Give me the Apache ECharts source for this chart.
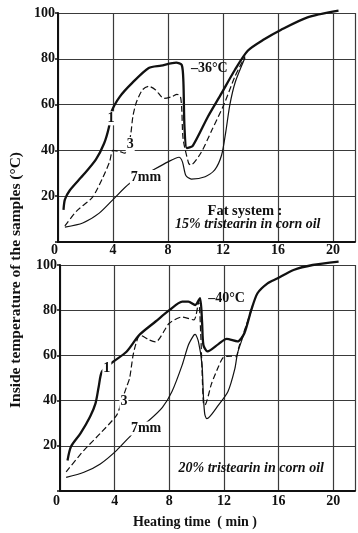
<!DOCTYPE html>
<html>
<head>
<meta charset="utf-8">
<script src="https://cdn.jsdelivr.net/npm/echarts@6/dist/echarts.min.js"></script>
<style>
  html, body { margin: 0; padding: 0; background: #fff; }
  #main { width: 358px; height: 533px; }
</style>
</head>
<body>
<div id="main"></div>
<script>
// tick labels
var xTicks = [0, 4, 8, 12, 16, 20];
var yTicks = [20, 40, 60, 80, 100];

// top panel: 15% tristearin, -36 C  ([min, C])
var top1 = [[0.4,14],[0.5,18.5],[0.85,22.5],[1.8,29],[2.75,36],[3.35,43],[3.7,50],[3.9,57],[4.5,63.5],[5.4,69.5],[6.6,76],[7.5,77],[8.6,78.3],[9.0,77.3],[9.12,70],[9.2,50],[9.37,41],[9.8,42],[10.9,54.7],[11.9,65],[12.85,75],[13.8,83.5],[15,88.5],[16.2,92.6],[18.1,98],[20.4,101]];
var top3 = [[0.5,7],[1.35,13.5],[2.5,19.5],[3.25,28],[3.75,35],[4.0,40],[4.5,39.5],[4.85,38.8],[5.05,40],[5.3,47.5],[5.45,55],[5.7,61],[6.15,66.5],[6.6,68],[7.1,66.4],[7.7,62.7],[8.3,63.5],[8.65,64.5],[8.9,63.5],[9.0,58],[9.1,45],[9.5,34.4],[9.65,33.6],[10.4,39],[11.2,49],[12.1,60.5],[12.85,72],[13.6,81]];
var top7 = [[0.5,6.5],[1.8,8.3],[3.0,12.6],[4.0,18.5],[5.2,25.5],[6.8,31],[8.0,35],[8.8,37],[9.05,35],[9.3,29],[9.7,27.5],[10.7,28.5],[11.4,31.5],[11.9,38],[12.2,48],[12.5,60],[12.9,70],[13.6,80.5]];

// bottom panel: 20% tristearin, -40 C
var bot1 = [[0.55,13.5],[0.8,19.6],[1.5,25.5],[2.2,32.9],[2.6,38.8],[2.83,46],[3.07,52.8],[3.9,57.2],[4.87,61.6],[5.8,69],[7.0,75],[8.0,80],[8.95,83.8],[9.4,83.8],[9.9,82.3],[10.25,85.3],[10.4,75],[10.5,64.6],[10.8,61.8],[11.6,65],[12.2,67.3],[13.0,66.2],[13.5,69.8],[14.0,80],[14.46,87.5],[15.2,91.9],[15.9,94],[17.1,97.8],[18.5,100],[20.4,101.5]];
var bot3 = [[0.45,8.5],[1.75,18],[2.95,25.5],[4.15,33.6],[4.5,39.5],[4.87,46],[5.1,50],[5.35,60],[5.6,66],[5.85,69],[6.55,66.8],[7.0,66],[8.0,74.2],[8.95,77],[9.8,75.7],[10.15,83.8],[10.3,70],[10.4,53.5],[10.5,39],[10.6,38],[11.1,47.6],[11.6,55],[11.95,59.1],[12.5,59.7],[12.9,59.4],[13.1,63.8],[13.6,72.7],[14.05,81]];
var bot7 = [[0.45,6],[1.75,8.3],[2.95,12],[4.15,18],[5.35,25.5],[6.55,31.4],[7.5,37],[8.2,44],[8.95,55.8],[9.4,64.6],[9.8,69],[9.9,69.3],[10.14,66],[10.4,55.8],[10.5,42],[10.6,34],[10.75,32],[11.6,38],[12.3,44],[12.8,54],[13.0,61],[13.4,68.3],[13.86,77],[14.1,82]];

var serif = '"Liberation Serif", "DejaVu Serif", serif';
var ink = '#111';

var chart = echarts.init(document.getElementById('main'));

function xAxisFor(i, margin) {
    return {
        type: 'value', gridIndex: i, min: 0, max: 21.6, interval: 4,
        axisLine: { lineStyle: { color: ink, width: 2 } },
        axisTick: { show: false },
        axisLabel: {
            margin: margin, color: ink, fontFamily: serif, fontWeight: 'bold', fontSize: 14,
            alignMinLabel: 'right',
            formatter: function (v) { return xTicks.indexOf(v) >= 0 ? String(v) : ''; }
        },
        splitLine: { show: true, lineStyle: { color: '#3a3a3a', width: 1.2 } }
    };
}
function yAxisFor(i) {
    return {
        type: 'value', gridIndex: i, min: 0, max: 100, interval: 20,
        axisLine: { show: true, lineStyle: { color: ink, width: 2 } },
        axisTick: { show: true, inside: false, length: 3, lineStyle: { color: ink, width: 1.5 } },
        axisLabel: {
            margin: 3, color: ink, fontFamily: serif, fontWeight: 'bold', fontSize: 14,
            formatter: function (v) { return yTicks.indexOf(v) >= 0 ? String(v) : ''; }
        },
        splitLine: { show: true, lineStyle: { color: '#3a3a3a', width: 1.2 } }
    };
}
function curve(name, data, i, kind) {
    var ls = { color: ink, width: 1.2 };
    if (kind === 'thick') ls.width = 2.3;
    if (kind === 'dash') { ls.type = [6, 3]; ls.width = 1.2; }
    return {
        name: name, type: 'line', xAxisIndex: i, yAxisIndex: i, data: data,
        showSymbol: false, smooth: 0.25, clip: false, lineStyle: ls, z: 3, animation: false
    };
}

var option = {
    animation: false,
    grid: [
        { left: 58, top: 13, width: 300, height: 229 },
        { left: 60, top: 265, width: 298, height: 226 }
    ],
    xAxis: [xAxisFor(0, 1), xAxisFor(1, 3)],
    yAxis: [yAxisFor(0), yAxisFor(1)],
    series: [
        curve('1', top1, 0, 'thick'),
        curve('3', top3, 0, 'dash'),
        curve('7mm', top7, 0, 'thin'),
        curve('1', bot1, 1, 'thick'),
        curve('3', bot3, 1, 'dash'),
        curve('7mm', bot7, 1, 'thin')
    ]
};
chart.setOption(option);

// annotations placed in data coordinates
function label(gi, pos, text, opts) {
    var p = chart.convertToPixel({ gridIndex: gi }, pos);
    opts = opts || {};
    return {
        type: 'text', x: p[0], y: p[1], z: 10,
        style: {
            text: text, fill: ink,
            font: (opts.italic ? 'italic ' : '') + 'bold ' + (opts.size || 14) + 'px ' + serif,
            textAlign: 'center', textVerticalAlign: 'middle',
            backgroundColor: opts.bg ? '#fff' : null, padding: opts.bg ? [0, 1] : 0
        }
    };
}

chart.setOption({
    graphic: [
        label(0, [3.86, 54], '1', { bg: true }),
        label(0, [5.25, 42.8], '3', { bg: true }),
        label(0, [6.4, 28.4], '7mm', { bg: true }),
        label(0, [11.0, 76], '–36°C'),
        label(0, [13.6, 13.5], 'Fat system :', { size: 14.5 }),
        label(0, [13.8, 7.9], '15% tristearin in corn oil', { size: 14, italic: true }),
        label(1, [3.43, 54.4], '1', { bg: true }),
        label(1, [4.68, 39.5], '3', { bg: true }),
        label(1, [6.3, 27.7], '7mm', { bg: true }),
        label(1, [12.2, 85.4], '–40°C'),
        label(1, [14.0, 10.2], '20% tristearin in corn oil', { size: 14, italic: true }),
        {
            type: 'text', x: 16, y: 280, rotation: Math.PI / 2,
            style: {
                text: 'Inside temperature of the samples (°C)', fill: ink,
                font: 'bold 15.5px ' + serif, textAlign: 'center', textVerticalAlign: 'middle'
            }
        },
        {
            type: 'text', x: 195, y: 522,
            style: {
                text: 'Heating time  ( min )', fill: ink,
                font: 'bold 14px ' + serif, textAlign: 'center', textVerticalAlign: 'middle'
            }
        }
    ]
});
</script>
</body>
</html>
